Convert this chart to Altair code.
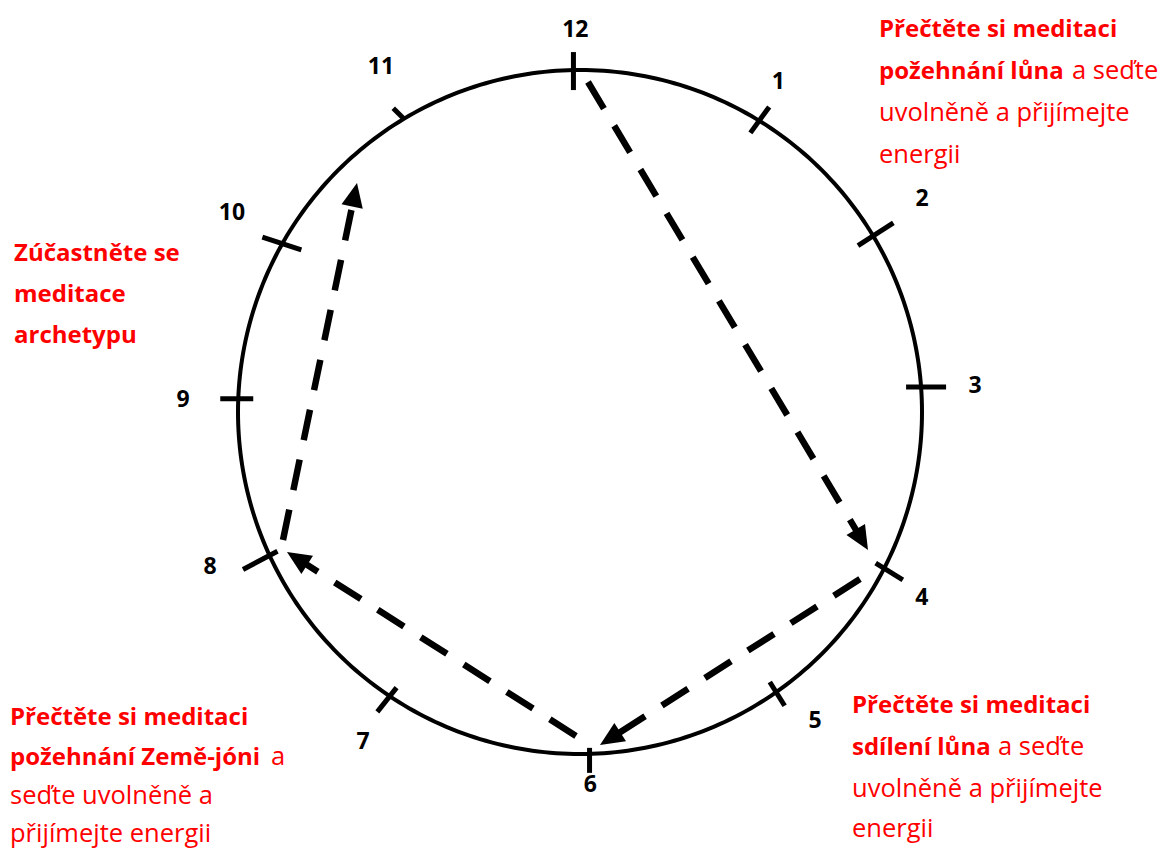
import math
import altair as alt
import pandas as pd

# ---------------- data ----------------
CENTER_X, CENTER_Y = 580, 412
RADIUS = 342

hour_labels = ["12", "1", "2", "3", "4", "5", "6", "7", "8", "9", "10", "11"]
# where each tick crosses the circle (deg, clockwise from top), its direction,
# and how far it reaches inside / outside the circle
tick_angle = [358.9, 31.6, 59.0, 85.8, 117.2, 145.0, 178.4, 213.8, 245.2, 272.2, 299.5, 329.0]
tick_dir = [0, 36, 57.4, 90, 122, 148, 180, 218.4, 242.1, 270, 288, 315]
tick_in = [20, 15, 18, 15, 10, 12, 6, 11, 9, 15, 20, 0]
tick_out = [18, 17, 24, 25, 22, 16, 19, 20, 30, 18, 21, 15]
# hour number positions (polar)
label_angle = [359.3, 31.0, 58.1, 86.2, 118.5, 142.7, 178.4, 213.3, 247.3, 271.7, 299.8, 330.0]
label_r = [382, 385, 403, 396, 389, 388, 373, 395, 401, 397, 401, 398]

# dashed arrows: start point and arrow tip
arrow_from_x = [588, 860, 576, 283]
arrow_from_y = [82, 579, 736, 540]
arrow_to_x = [868, 600, 287, 357]
arrow_to_y = [550, 745, 552, 183]

# red annotations: text, left x, baseline y, bold?
note_text = [
    "Přečtěte si meditaci", "požehnání lůna", "a seďte", "uvolněně a přijímejte", "energii",
    "Zúčastněte se", "meditace", "archetypu",
    "Přečtěte si meditaci", "sdílení lůna", "a seďte", "uvolněně a přijímejte", "energii",
    "Přečtěte si meditaci", "požehnání Země-jóni", "a", "seďte uvolněně a", "přijímejte energii",
]
note_x = [879, 879, 1072, 879, 879,
          14, 14, 14,
          852, 852, 998, 852, 852,
          10, 10, 271, 10, 10]
note_y = [37, 79, 79, 121, 163,
          261, 302, 343,
          713, 755, 755, 797, 837,
          725, 765, 765, 804, 842]
note_bold = [1, 1, 0, 0, 0,
             1, 1, 1,
             1, 1, 0, 0, 0,
             1, 1, 0, 0, 0]

# ---------------- geometry helpers ----------------
W, H = 1154, 841
X0, Y0 = 8, 8


def polar(angle, r):
    a = math.radians(angle)
    return CENTER_X + r * math.sin(a), CENTER_Y - r * math.cos(a)


xs = alt.Scale(domain=[X0, X0 + W], nice=False, zero=False)
ys = alt.Scale(domain=[Y0, Y0 + H], nice=False, zero=False, reverse=True)
X = alt.X("x:Q", scale=xs, axis=None)
Y = alt.Y("y:Q", scale=ys, axis=None)

# circle
circ = []
for i in range(361):
    px, py = polar(i, RADIUS)
    circ.append({"x": px, "y": py, "o": i})
circle = alt.Chart(pd.DataFrame(circ)).mark_line(
    color="black", strokeWidth=4, interpolate="linear"
).encode(x=X, y=Y, order="o:Q")

# ticks
tk = []
for a, d, li, lo in zip(tick_angle, tick_dir, tick_in, tick_out):
    cx, cy = polar(a, RADIUS)
    ux, uy = math.sin(math.radians(d)), -math.cos(math.radians(d))
    tk.append({"x": cx - li * ux, "y": cy - li * uy, "x2": cx + lo * ux, "y2": cy + lo * uy})
ticks = alt.Chart(pd.DataFrame(tk)).mark_rule(
    color="black", strokeWidth=5, strokeCap="butt"
).encode(x=X, y=Y, x2="x2:Q", y2="y2:Q")

# hour numbers
lb = []
for t, a, r in zip(hour_labels, label_angle, label_r):
    px, py = polar(a, r)
    lb.append({"x": px, "y": py, "t": t})
hours = alt.Chart(pd.DataFrame(lb)).mark_text(
    font="Open Sans", fontSize=23, fontWeight="bold", color="black",
    align="center", baseline="middle"
).encode(x=X, y=Y, text="t:N")

# arrows
HEAD = 20
ar, hd = [], []
for fx, fy, tx, ty in zip(arrow_from_x, arrow_from_y, arrow_to_x, arrow_to_y):
    dx, dy = tx - fx, ty - fy
    L = math.hypot(dx, dy)
    ux, uy = dx / L, dy / L
    ar.append({"x": fx, "y": fy, "x2": tx - HEAD * ux, "y2": ty - HEAD * uy})
    ang = math.degrees(math.atan2(dx, -dy)) % 360
    hd.append({"x": tx, "y": ty, "ang": ang})
arrow_lines = alt.Chart(pd.DataFrame(ar)).mark_rule(
    color="black", strokeWidth=6.5, strokeDash=[31, 20], strokeCap="butt"
).encode(x=X, y=Y, x2="x2:Q", y2="y2:Q")
heads = alt.Chart(pd.DataFrame(hd)).mark_point(
    shape="M0,0L0.95,2.1L-0.95,2.1Z", filled=True, color="black", opacity=1,
    size=520, strokeWidth=0
).encode(x=X, y=Y, angle=alt.Angle("ang:Q", scale=None))

# red notes
notes_df = pd.DataFrame({"x": note_x, "y": note_y, "t": note_text, "b": note_bold})
base_notes = alt.Chart(notes_df).encode(x=X, y=Y, text="t:N")
notes_bold = base_notes.transform_filter("datum.b == 1").mark_text(
    font="Open Sans", fontSize=24, fontWeight="bold", color="#FF0000",
    align="left", baseline="alphabetic")
notes_norm = base_notes.transform_filter("datum.b == 0").mark_text(
    font="Open Sans", fontSize=25.5, fontWeight="normal", color="#FF0000",
    align="left", baseline="alphabetic")

chart = alt.layer(
    circle, ticks, arrow_lines, heads, hours, notes_bold, notes_norm
).properties(
    width=W, height=H, padding=0, autosize=alt.AutoSizeParams(type="none")
).configure_view(stroke=None)

chart.save("out.html", embed_options={"renderer": "svg", "actions": False})
